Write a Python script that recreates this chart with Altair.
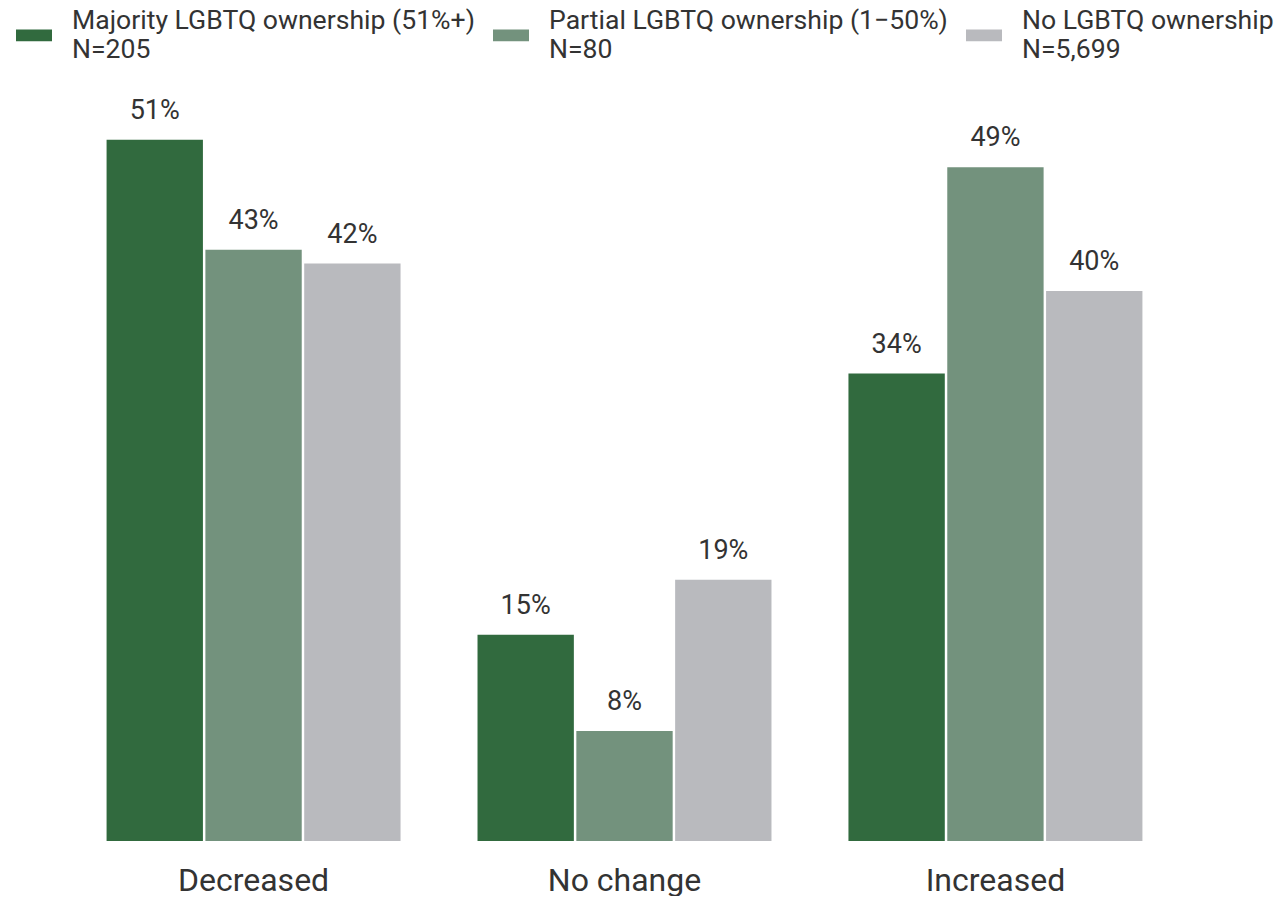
import altair as alt
import pandas as pd

categories = ["Decreased", "No change", "Increased"]
groups = ["Majority LGBTQ ownership (51%+)\nN=205",
          "Partial LGBTQ ownership (1\u221250%)\nN=80",
          "No LGBTQ ownership\nN=5,699"]
majority = [51, 15, 34]
partial = [43, 8, 49]
none_ = [42, 19, 40]
colors = ["#316a3e", "#73927d", "#b9babe"]

rows = []
for i, c in enumerate(categories):
    for g, vals in zip(groups, [majority, partial, none_]):
        rows.append({"category": c, "group": g, "value": vals[i]})
df = pd.DataFrame(rows)

FONT = "Roboto"

base = alt.Chart(df).encode(
    x=alt.X("category:N", sort=categories, title=None,
            scale=alt.Scale(paddingInner=0.2075, paddingOuter=0.104),
            axis=alt.Axis(domain=False, ticks=False, labelAngle=0, labelFontSize=32,
                          labelFont=FONT, labelColor="#333333", labelPadding=24)),
    xOffset=alt.XOffset("group:N", sort=groups, scale=alt.Scale(paddingInner=0.025)),
    y=alt.Y("value:Q", scale=alt.Scale(domain=[0, 54.62]), axis=None),
)

bars = base.mark_bar().encode(
    color=alt.Color("group:N", sort=groups, title=None,
                    scale=alt.Scale(domain=groups, range=colors),
                    legend=alt.Legend(orient="none", legendX=-52, legendY=-73,
                                      direction="horizontal",
                                      labelExpr="split(datum.label, '\\n')",
                                      labelFont=FONT, labelFontSize=26.6, labelColor="#333333",
                                      labelBaseline="bottom",
                                      labelLimit=600, labelOffset=20, columnPadding=18,
                                      symbolType="M-1,-0.33H1V0.33H-1Z", symbolSize=1296,
                                      symbolStrokeWidth=0, symbolOpacity=1))
)

labels = base.mark_text(baseline="alphabetic", dy=-21, fontSize=27, font=FONT,
                        color="#333333").transform_calculate(
    lbl="datum.value + '%'").encode(text="lbl:N")

chart = alt.layer(bars, labels).properties(
    width=1113, height=751,
    padding={"left": 60, "top": 82, "right": 95, "bottom": 55},
    autosize=alt.AutoSizeParams(type="none"),
).configure_view(stroke=None)

chart.save("out.html", embed_options={"renderer": "svg", "actions": False})
